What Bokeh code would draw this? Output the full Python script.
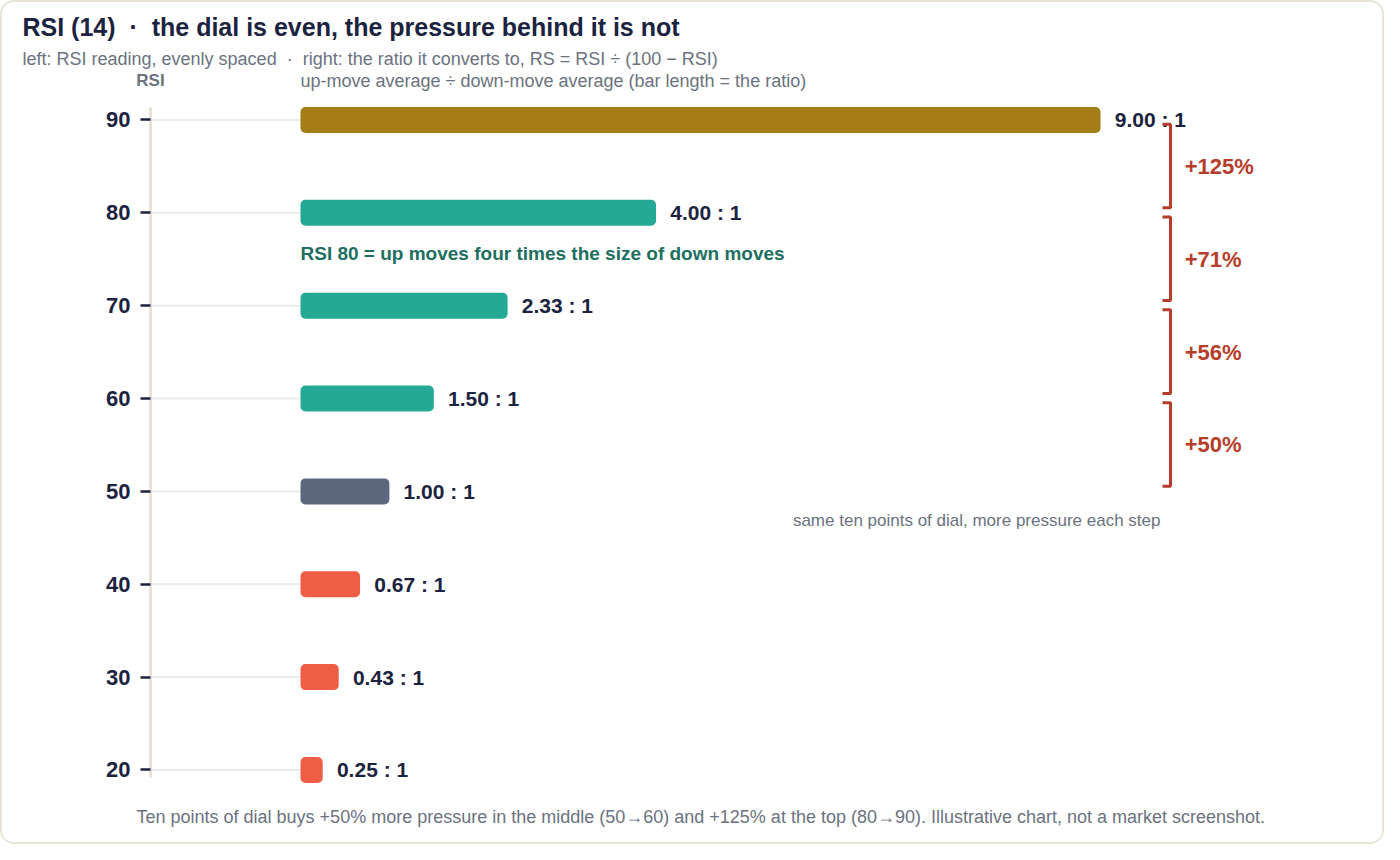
from bokeh.plotting import figure
from bokeh.models import ColumnDataSource, Range1d, Label, FixedTicker
from bokeh.embed import file_html
from bokeh.resources import INLINE

# RSI levels and the RS ratio each converts to
rsi = [20, 30, 40, 50, 60, 70, 80, 90]
ratio = [0.25, 0.43, 0.67, 1.00, 1.50, 2.33, 4.00, 9.00]
ratio_text = ["0.25 : 1", "0.43 : 1", "0.67 : 1", "1.00 : 1",
              "1.50 : 1", "2.33 : 1", "4.00 : 1", "9.00 : 1"]

# extra pressure bought by each ten-point step of the dial
step_lo = [80, 70, 60, 50]
step_hi = [90, 80, 70, 60]
step_pct = ["+125%", "+71%", "+56%", "+50%"]

FONT = "Liberation Sans"
NAVY = "#1b2340"
GRAY = "#6b7280"
RED = "#b73d2b"
SP = "\u00a0\u00a0"

def bar_color(level):
    if level < 50:
        return "#ee5e45"
    if level == 50:
        return "#5c677d"
    if level < 90:
        return "#26a897"
    return "#a67c17"

AXIS_X = -1.6875   # where the dial sits, left of the bars

src = ColumnDataSource(dict(
    rsi=rsi, ratio=ratio, label=ratio_text,
    color=[bar_color(r) for r in rsi],
    lx=[r + 0.16 for r in ratio],
    gx0=[AXIS_X] * len(rsi), gx1=[0] * len(rsi),
))

# the frame fills the whole canvas so the notes around the chart are not clipped
p = figure(width=1384, height=844, output_backend="svg", toolbar_location=None,
           x_range=Range1d(-3.3525, 12.2175), y_range=Range1d(11.76, 102.65),
           min_border=0,
           styles={"border": "2px solid #e8e4d6", "border-radius": "14px",
                   "overflow": "hidden"})
p.background_fill_color = "white"
p.border_fill_color = "white"
p.outline_line_color = None
p.grid.visible = False
p.xaxis.visible = False

ax = p.yaxis[0]
ax.fixed_location = AXIS_X
ax.bounds = (19.14, 91.29)
ax.ticker = FixedTicker(ticks=rsi)
ax.axis_line_color = "#e6e2d8"
ax.axis_line_width = 3
ax.major_tick_in = 0
ax.major_tick_out = 10
ax.major_tick_line_color = NAVY
ax.major_tick_line_width = 2.5
ax.minor_tick_line_color = None
ax.major_label_standoff = 10
ax.major_label_text_font = FONT
ax.major_label_text_font_style = "bold"
ax.major_label_text_font_size = "22px"
ax.major_label_text_color = NAVY

# faint guide from the dial to the bar start
p.segment(x0="gx0", y0="rsi", x1="gx1", y1="rsi", source=src,
          line_color="#ebebeb", line_width=2, level="underlay")

p.hbar(y="rsi", left=0, right="ratio", height=2.8, source=src,
       fill_color="color", line_color=None, border_radius=5)

p.text(x="lx", y="rsi", text="label", source=src,
       text_font={"value": FONT}, text_font_style="bold",
       text_font_size="21px", text_color=NAVY, text_baseline="middle")

# brackets on the right
bx, dx = 9.7875, 0.09
xs, ys = [], []
for lo, hi in zip(step_lo, step_hi):
    top, bot = hi - 0.45, lo + 0.55
    xs.append([bx - dx, bx, bx, bx - dx])
    ys.append([top, top, bot, bot])
p.multi_line(xs=xs, ys=ys, line_color=RED, line_width=3)
p.text(x=[bx + 0.16] * len(step_pct), y=[(lo + hi) / 2 for lo, hi in zip(step_lo, step_hi)],
       text=step_pct, text_font={"value": FONT}, text_font_style="bold",
       text_font_size="22px", text_color=RED, text_baseline="middle")

def note(x, y, text, size, color, bold=False, align="left"):
    p.add_layout(Label(x=x, y=y, text=text, text_font=FONT,
                       text_font_size=size, text_color=color,
                       text_font_style="bold" if bold else "normal",
                       text_align=align, text_baseline="middle"))

note(-3.1275, 100.0, "RSI (14)" + SP + "\u00b7" + SP + "the dial is even, the pressure behind it is not",
     "25px", NAVY, bold=True)
note(-3.1275, 96.57, "left: RSI reading, evenly spaced" + SP + "\u00b7" + SP +
     "right: the ratio it converts to, RS = RSI \u00f7 (100 \u2212 RSI)", "18px", GRAY)
note(AXIS_X, 94.2, "RSI", "17px", GRAY, bold=True, align="center")
note(0, 94.2, "up-move average \u00f7 down-move average (bar length = the ratio)", "18px", GRAY)
note(0, 75.57, "RSI 80 = up moves four times the size of down moves", "19px", "#1e6f5f", bold=True)
note(9.675, 46.82, "same ten points of dial, more pressure each step", "17px", GRAY, align="right")
note(-1.845, 14.94, "Ten points of dial buys +50% more pressure in the middle (50\u219260) and "
     "+125% at the top (80\u219290). Illustrative chart, not a market screenshot.", "18px", GRAY)

open("out.html", "w").write(file_html(p, INLINE))
